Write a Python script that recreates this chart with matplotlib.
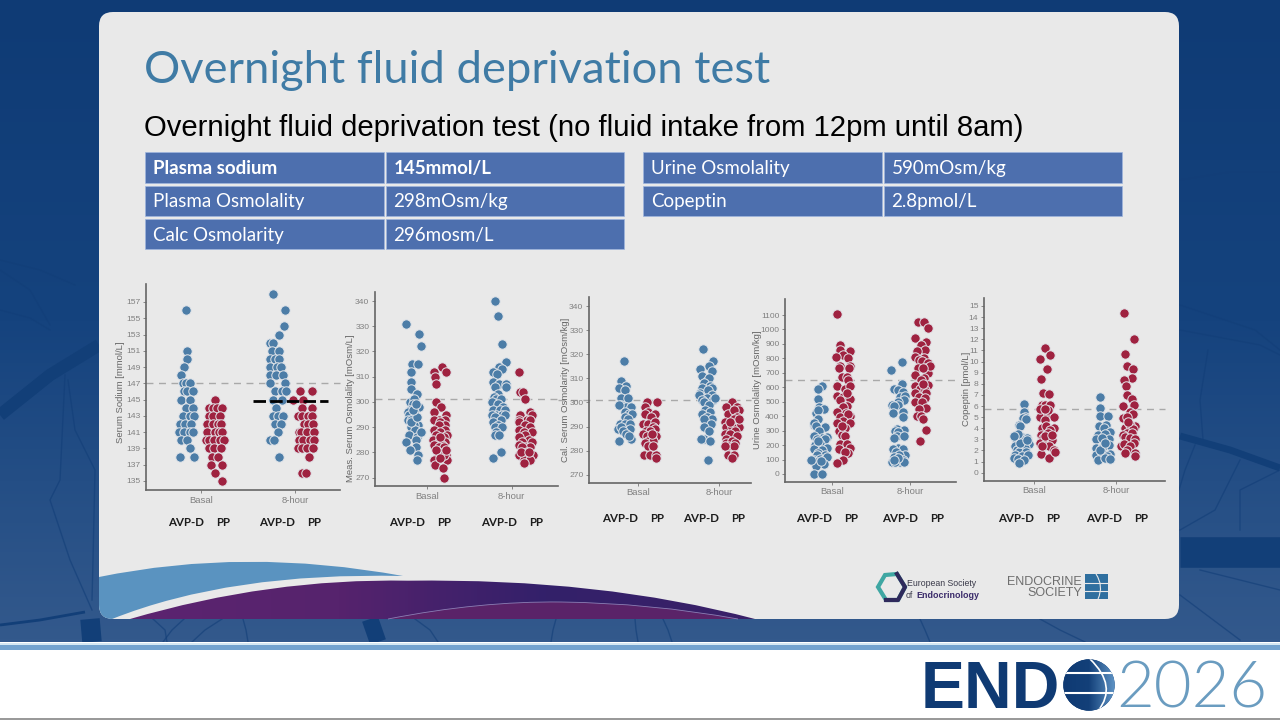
import numpy as np
import matplotlib
matplotlib.use("Agg")
import matplotlib.pyplot as plt
from matplotlib.colors import LinearSegmentedColormap
from matplotlib.patches import FancyBboxPatch, PathPatch, Circle, Rectangle, Polygon
from matplotlib.path import Path

W, H = 1280, 720

# x values are hundredths of a category away from the category tick (jitter)
na_basal_avp_y = [156,151,150,149,148,147,147,147,146,146,146,145,145,144,144,143,143,143,142,142,142,141,141,141,141,140,140,139,138,138]
na_basal_avp_x = [-16,-14,-14,-18,-21,-19,-16,-11,-18,-14,-8,-21,-11,-16,-8,-19,-11,-7,-22,-17,-10,-23,-18,-11,-8,-21,-15,-11,-22,-7]
na_basal_pp_y = [145,144,144,144,144,143,143,143,142,142,142,142,141,141,141,141,140,140,140,140,140,139,139,139,138,138,137,137,136,135]
na_basal_pp_x = [15,9,13,17,23,9,13,20,7,13,18,21,7,15,19,23,6,9,14,20,25,9,14,22,12,18,11,23,15,23]
na_8h_avp_y = [158,156,154,153,152,152,151,151,150,150,150,149,149,149,148,148,148,147,147,146,146,146,145,145,144,143,143,143,142,142,141,140,140,138]
na_8h_avp_x = [-23,-11,-12,-17,-27,-23,-24,-17,-26,-21,-17,-26,-19,-15,-27,-20,-13,-27,-11,-21,-14,-10,-23,-14,-20,-23,-18,-13,-21,-15,-18,-27,-22,-17]
na_8h_pp_y = [146,146,145,145,144,144,143,143,143,143,142,142,142,141,141,141,141,140,140,140,140,139,139,139,139,138,136,136]
na_8h_pp_x = [5,18,-2,9,7,18,3,7,14,18,10,14,19,4,6,13,20,4,9,16,20,3,7,13,19,15,7,12]

osm_basal_avp_y = [331,327,322,315,315,312,308,305,303,300,301,299,298,297,296,296,295,294,293,293,291,291,290,288,289,287,286,288,284,285,282,281,279,277,292,294,297,299]
osm_basal_avp_x = [-24,-9,-7,-17,-10,-18,-18,-18,-11,-20,-15,-16,-9,-20,-15,-22,-21,-14,-22,-18,-10,-15,-18,-8,-14,-21,-11,-7,-24,-13,-13,-20,-10,-12,-18,-11,-16,-13]
osm_basal_pp_y = [314,312,312,310,307,300,298,296,295,293,293,293,292,291,291,289,289,288,287,287,286,285,284,284,283,283,282,282,280,279,277,278,277,275,274,270,286,281,279,278,281]
osm_basal_pp_x = [18,9,23,10,11,11,17,8,23,14,9,22,16,22,14,9,21,16,24,11,20,7,14,22,9,18,14,20,13,23,24,12,9,10,19,20,16,11,20,16,23]
osm_8h_avp_y = [340,334,323,316,314,313,312,311,308,307,307,306,306,303,302,301,301,300,299,298,297,297,297,295,295,295,295,294,293,292,291,290,290,288,287,287,280,278]
osm_8h_avp_x = [-20,-16,-11,-7,-15,-12,-22,-17,-22,-15,-7,-7,-20,-16,-21,-18,-13,-23,-16,-10,-22,-14,-8,-18,-23,-12,-8,-20,-13,-22,-16,-20,-12,-18,-20,-15,-13,-22]
osm_8h_pp_y = [312,304,304,301,296,295,295,293,293,293,292,291,290,289,288,288,287,286,285,284,284,283,282,282,282,280,279,279,279,277,277,276,280,280]
osm_8h_pp_x = [8,10,13,16,21,10,24,8,18,22,9,16,22,8,14,24,16,9,20,12,24,8,16,22,12,18,8,16,25,14,21,15,11,20]

cal_basal_avp_y = [317,309,307,306,305,302,302,299,298,298,299,296,295,295,294,293,291,291,291,289,290,289,288,287,284,285,286]
cal_basal_avp_x = [-17,-20,-15,-23,-16,-20,-12,-20,-14,-8,-23,-16,-11,-7,-16,-12,-22,-16,-9,-24,-21,-9,-18,-14,-23,-8,-11]
cal_basal_pp_y = [300,300,298,296,295,295,294,291,291,292,290,289,288,288,287,286,286,285,284,284,283,282,278,278,278,277,287,282]
cal_basal_pp_x = [11,24,9,13,21,9,16,7,13,21,19,21,10,15,7,23,11,17,13,19,9,13,8,15,23,23,17,19]
cal_8h_avp_y = [322,317,315,314,313,311,309,310,308,307,306,306,304,305,303,303,302,301,301,300,299,302,297,296,295,294,293,293,291,290,288,285,285,284,276]
cal_8h_avp_x = [-20,-7,-12,-23,-9,-21,-15,-12,-19,-11,-9,-21,-23,-13,-8,-24,-15,-21,-7,-18,-12,-5,-17,-11,-21,-15,-9,-19,-10,-19,-12,-19,-22,-11,-13]
cal_8h_pp_y = [300,298,298,297,295,297,294,292,293,290,290,290,287,288,287,286,285,283,284,283,282,282,282,278,278,277,293,292]
cal_8h_pp_x = [16,9,22,24,11,18,22,7,18,24,9,16,7,20,14,22,9,8,16,20,11,18,7,11,18,16,24,14]

uosm_basal_avp_y = [610,585,520,465,450,420,440,380,340,325,350,330,295,260,258,250,240,240,210,200,175,180,165,145,130,130,100,105,100,120,80,70,55,90,0,0,95,225]
uosm_basal_avp_x = [-13,-18,-18,-16,-10,-20,-17,-17,-23,-9,-23,-20,-16,-23,-6,-13,-19,-9,-15,-21,-23,-6,-13,-17,-9,-19,-23,-15,-10,-6,-20,-10,-20,-14,-22,-13,-26,-17]
uosm_basal_pp_y = [1110,890,850,860,825,810,805,750,750,735,730,670,670,610,650,590,610,540,535,530,520,510,470,465,430,425,400,395,415,370,355,350,300,315,270,265,210,210,180,175,145,150,95,75,330,560]
uosm_basal_pp_x = [7,11,23,10,14,6,21,10,23,9,22,13,19,7,21,17,23,7,14,21,23,10,19,14,7,18,23,11,21,15,7,23,9,17,13,17,11,19,23,9,21,17,15,7,13,19]
uosm_8h_avp_y = [775,720,625,585,580,565,530,540,515,500,480,475,470,425,430,395,310,305,300,290,260,265,250,180,170,175,150,130,130,120,100,85,95,85,80,80,110,100]
uosm_8h_avp_x = [-10,-24,-10,-20,-15,-9,-13,-6,-8,-15,-23,-15,-20,-22,-9,-9,-17,-8,-19,-15,-17,-8,-20,-15,-22,-9,-18,-6,-14,-20,-9,-23,-17,-13,-8,-19,-15,-21]
uosm_8h_pp_y = [1055,1055,1010,940,910,895,855,850,810,805,790,780,770,735,730,700,685,665,650,610,615,585,580,560,560,530,525,500,495,460,450,400,400,380,305,230,620,750,730]
uosm_8h_pp_x = [10,18,23,7,21,14,19,9,6,18,11,15,23,10,21,23,7,18,14,7,23,13,19,6,21,11,19,7,15,20,11,9,14,16,21,13,17,26,16]

cop_basal_avp_y = [6.2,5.5,5.0,4.9,4.8,4.3,4.2,3.3,3.2,3.1,3.0,2.9,2.6,2.4,2.4,2.3,2.2,2.0,1.9,1.9,1.6,1.5,1.6,1.3,1.2,1.1,0.9,2.7,3.5,3.3,2.9]
cop_basal_avp_x = [-12,-12,-11,-14,-10,-18,-17,-23,-15,-9,-22,-13,-6,-23,-13,-17,-11,-21,-18,-10,-23,-15,-7,-25,-20,-12,-18,-17,-19,-25,-8]
cop_basal_pp_y = [11.2,10.2,10.6,9.3,8.4,7.2,7.1,6.1,6.1,6.1,5.0,5.2,5.0,4.7,4.0,4.2,4.0,3.8,3.4,3.6,3.1,2.9,2.7,2.5,2.4,2.0,1.7,1.3,1.9,2.4,3.3,5.6,3.4,5.7,5.7]
cop_basal_pp_x = [13,7,20,16,9,11,18,10,14,20,7,17,24,13,10,15,24,20,9,17,11,22,7,14,18,24,9,18,25,10,13,17,22,7,13]
cop_8h_avp_y = [6.8,5.8,5.1,5.1,4.2,4.3,4.0,3.7,3.4,3.5,3.0,3.0,3.1,2.5,2.2,2.2,1.7,1.6,1.8,1.5,1.1,1.3,1.2,2.0,2.7]
cop_8h_avp_x = [-20,-20,-20,-10,-21,-12,-15,-7,-22,-14,-24,-9,-17,-9,-24,-17,-7,-24,-17,-11,-22,-13,-7,-20,-13]
cop_8h_pp_y = [14.4,12.0,10.7,9.6,9.3,8.5,8.3,7.8,7.0,6.6,6.1,6.0,5.5,5.3,4.9,5.0,4.2,4.0,4.3,3.9,3.6,3.6,3.4,3.2,3.1,3.0,2.4,2.6,2.7,2.4,2.0,1.8,1.8,1.5,4.6]
cop_8h_pp_x = [10,22,11,14,21,20,10,12,13,19,22,9,17,21,8,13,23,11,17,21,13,19,8,11,17,23,6,10,22,17,14,11,23,23,15]

categories = ["Basal", "8-hour"]
group_labels = ["AVP-D", "PP", "AVP-D", "PP"]
left_rows = [("Plasma sodium", "145mmol/L"), ("Plasma Osmolality", "298mOsm/kg"), ("Calc Osmolarity", "296mosm/L")]
right_rows = [("Urine Osmolality", "590mOsm/kg"), ("Copeptin", "2.8pmol/L")]

BLUE = "#4c7da7"
RED = "#9f2240"
GREY = "#808080"

panels = [
    dict(ylabel="Serum Sodium [mmol/L]", ticks=list(range(135, 158, 2)), ref=147,
         groups=[(na_basal_avp_x, na_basal_avp_y, 1, BLUE), (na_basal_pp_x, na_basal_pp_y, 1, RED),
                 (na_8h_avp_x, na_8h_avp_y, 2, BLUE), (na_8h_pp_x, na_8h_pp_y, 2, RED)],
         box=(146, 284, 340, 490), ypix=(135, 481, 157, 302), xpix=(200.7, 295), lab=(125, 392), dash=146,
         gx=[186, 223, 277, 314], gy=[522, 522, 522, 522]),
    dict(ylabel="Meas. Serum Osmolality [mOsm/L]", ticks=list(range(270, 341, 10)), ref=301,
         groups=[(osm_basal_avp_x, osm_basal_avp_y, 1, BLUE), (osm_basal_pp_x, osm_basal_pp_y, 1, RED),
                 (osm_8h_avp_x, osm_8h_avp_y, 2, BLUE), (osm_8h_pp_x, osm_8h_pp_y, 2, RED)],
         box=(375, 292, 558, 486), ypix=(270, 477.7, 340, 301), xpix=(426.7, 511.7), lab=(355, 408), dash=375,
         gx=[407, 444, 499, 536], gy=[522, 522, 522, 522]),
    dict(ylabel="Cal. Serum Osmolarity [mOsm/kg]", ticks=list(range(270, 341, 10)), ref=301,
         groups=[(cal_basal_avp_x, cal_basal_avp_y, 1, BLUE), (cal_basal_pp_x, cal_basal_pp_y, 1, RED),
                 (cal_8h_avp_x, cal_8h_avp_y, 2, BLUE), (cal_8h_pp_x, cal_8h_pp_y, 2, RED)],
         box=(589, 297, 751, 482.7), ypix=(270, 474.7, 340, 306), xpix=(637.7, 719), lab=(570, 390), dash=558,
         gx=[620, 657, 701, 738], gy=[519, 519, 518, 518]),
    dict(ylabel="Urine Osmolality [mOsm/kg]", ticks=list(range(0, 1101, 100)), ref=650,
         groups=[(uosm_basal_avp_x, uosm_basal_avp_y, 1, BLUE), (uosm_basal_pp_x, uosm_basal_pp_y, 1, RED),
                 (uosm_8h_avp_x, uosm_8h_avp_y, 2, BLUE), (uosm_8h_pp_x, uosm_8h_pp_y, 2, RED)],
         box=(785, 299, 956, 481.7), ypix=(0, 474, 1100, 315), xpix=(831.7, 910), lab=(762, 390), dash=785,
         gx=[814, 851, 900, 937], gy=[518, 518, 518, 518]),
    dict(ylabel="Copeptin [pmol/L]", ticks=list(range(0, 16)), ref=5.7,
         groups=[(cop_basal_avp_x, cop_basal_avp_y, 1, BLUE), (cop_basal_pp_x, cop_basal_pp_y, 1, RED),
                 (cop_8h_avp_x, cop_8h_avp_y, 2, BLUE), (cop_8h_pp_x, cop_8h_pp_y, 2, RED)],
         box=(984, 298, 1165, 480.7), ypix=(0, 472.7, 15, 306), xpix=(1034, 1116), lab=(971, 389), dash=984,
         gx=[1016, 1053, 1104, 1141], gy=[518, 518, 518, 518]),
]

fig = plt.figure(figsize=(W / 100, H / 100), dpi=100)
bg = fig.add_axes([0, 0, 1, 1])
bg.set_axis_off()

# slide background
grad = np.linspace(0, 1, 200).reshape(-1, 1)
bg_cmap = LinearSegmentedColormap.from_list("slide", ["#0f3b75", "#15437e", "#33598c"])
bg.imshow(grad, extent=(0, W, 642, 0), cmap=bg_cmap, aspect="auto", zorder=0)

# dark vessels behind the card (thin, thick)
thin_veins = [
    [(0, 260), (40, 270), (75, 285)], [(0, 270), (30, 290), (50, 325)], [(0, 310), (30, 318), (50, 330)],
    [(65, 375), (60, 480), (50, 500), (70, 560), (92, 610)], [(68, 380), (75, 430), (95, 470), (93, 560), (92, 600)],
    [(1180, 180), (1230, 172), (1280, 172)], [(1180, 305), (1255, 330), (1280, 350)], [(1180, 330), (1260, 345), (1280, 355)],
    [(1208, 350), (1200, 400), (1203, 440)], [(1195, 445), (1185, 470), (1179, 490)], [(1240, 460), (1215, 510), (1180, 530)],
    [(1280, 470), (1240, 490), (1240, 530)], [(1200, 570), (1240, 580), (1280, 590)], [(1180, 595), (1200, 610), (1240, 640)],
    [(153, 619), (165, 630), (167, 642)], [(184, 619), (172, 630), (163, 642)], [(222, 619), (205, 630), (192, 642)],
    [(243, 619), (246, 630), (248, 642)], [(415, 619), (430, 630), (438, 642)], [(556, 619), (553, 630), (551, 642)],
    [(635, 619), (636, 630), (638, 642)], [(663, 619), (668, 630), (672, 642)], [(920, 619), (925, 630), (930, 642)],
    [(1040, 619), (1060, 630), (1085, 642)],
]
for pts in thin_veins:
    bg.plot(*zip(*pts), color="#123e78", lw=1.0, alpha=0.6, solid_joinstyle="round", zorder=1)
thick_veins = [
    ([(0, 415), (50, 375), (99, 345)], 9), ([(1180, 436), (1230, 450), (1280, 468)], 5), ([(1180, 552), (1280, 552)], 22),
    ([(0, 625), (40, 620), (85, 612)], 2), ([(90, 619), (92, 642)], 14), ([(370, 619), (378, 642)], 12),
]
for pts, lw in thick_veins:
    bg.plot(*zip(*pts), color="#123f78", lw=lw, solid_capstyle="butt", zorder=1)

# bottom band
bg.add_patch(Rectangle((0, 642), W, 78, fc="white", ec="none", zorder=2))
bg.add_patch(Rectangle((0, 643), W, 2, fc="#d5e8f3", ec="none", zorder=2))
bg.add_patch(Rectangle((0, 645), W, 5, fc="#73a3cf", ec="none", zorder=2))
bg.add_patch(Rectangle((0, 718), W, 2, fc="#9a9a9a", ec="none", zorder=2))

# card
card = FancyBboxPatch((99 + 14, 12 + 14), 1080 - 28, 607 - 28, boxstyle="round,pad=14,rounding_size=14",
                      fc="#e9e9e9", ec="none", zorder=3)
bg.add_patch(card)

# swooshes at the foot of the card
C = Path.CURVE3
M = Path.MOVETO
L = Path.LINETO
blue_sw = Path([(99, 577), (245, 547), (403, 576), (230, 572), (112, 619), (99, 619), (99, 577)],
               [M, C, C, C, C, L, L])
p = PathPatch(blue_sw, fc="#5a93c0", ec="none", zorder=4)
bg.add_patch(p)
p.set_clip_path(card)
purple_sw = PathPatch(Path([(130, 619), (270, 578), (408, 580.7), (600, 578), (755, 619), (130, 619)], [M, C, C, C, C, L]),
                      fc="none", ec="none", zorder=4)
bg.add_patch(purple_sw)
purple_grad = bg.imshow(np.linspace(0, 1, 200).reshape(1, -1), extent=(130, 755, 619, 578), aspect="auto", zorder=4,
                        cmap=LinearSegmentedColormap.from_list("swoosh", ["#5c2470", "#56236d", "#33206a", "#3a2068"]))
purple_grad.set_clip_path(purple_sw)
inner_sw = Path([(388, 619), (480, 601), (561, 602), (650, 603), (738, 619), (388, 619)], [M, C, C, C, C, L])
bg.add_patch(PathPatch(inner_sw, fc="#5a2368", ec="none", zorder=5))
inner_top = Path([(388, 619), (480, 601), (561, 602), (650, 603), (738, 619)], [M, C, C, C, C])
bg.add_patch(PathPatch(inner_top, fc="none", ec="#8b7fb5", lw=0.6, zorder=5))

# headings
bg.text(144, 83, "Overnight fluid deprivation test", fontsize=32.6, color="#3f7ba5", family="Lato",
        va="baseline", ha="left", zorder=6)
bg.text(144, 136, "Overnight fluid deprivation test (no fluid intake from 12pm until 8am)", fontsize=21.1,
        color="black", family="Liberation Sans", va="baseline", ha="left", zorder=6)

# tables
row_tops = [152, 185.5, 218.5]
row_bots = [183, 216, 249]
row_base = [174, 207.5, 240.5]
for rows, x0, x1, x2, x3 in [(left_rows, 145, 384, 385.5, 624), (right_rows, 643, 882, 883.5, 1122)]:
    for i, (a, b) in enumerate(rows):
        bold = rows is left_rows and i == 0
        for xa, xb, label in [(x0, x1, a), (x2, x3, b)]:
            bg.add_patch(Rectangle((xa, row_tops[i]), xb - xa, row_bots[i] - row_tops[i], fc="#4d6fae",
                                   ec="#9fb6de", lw=0.5, zorder=6))
            bg.text(xa + 8, row_base[i], label, color="white", fontsize=13.5, family="Lato",
                    fontweight="bold" if bold else "normal", va="baseline", ha="left", zorder=7)

# scatter panels
for pn in panels:
    left, top, right, bottom = pn["box"]
    ax = fig.add_axes([left / W, 1 - bottom / H, (right - left) / W, (bottom - top) / H])
    ax.patch.set_alpha(0)
    v0, p0, v1, p1 = pn["ypix"]
    per_px = (v1 - v0) / (p0 - p1)
    ax.set_ylim(v0 - (bottom - p0) * per_px, v0 + (p0 - top) * per_px)
    c0, c1 = pn["xpix"]
    ax.set_xlim(1 + (left - c0) / (c1 - c0), 1 + (right - c0) / (c1 - c0))
    ax.plot([1 + (pn["dash"] - c0) / (c1 - c0), ax.get_xlim()[1]], [pn["ref"], pn["ref"]],
            color="#a9a9a9", lw=1, dashes=(5, 4), clip_on=False, zorder=1)
    for xs, ys, cat, col in pn["groups"]:
        ax.scatter(cat + np.array(xs) / 100, ys, s=46, color=col, edgecolors="#e3e6ea", linewidths=0.7, zorder=3)
    ax.set_xticks([1, 2])
    ax.set_xticklabels(categories, fontsize=6.8, color=GREY, family="Liberation Sans")
    ax.set_yticks(pn["ticks"])
    ax.set_yticklabels([str(t) for t in pn["ticks"]], fontsize=6.1, color=GREY, family="Liberation Sans")
    ax.tick_params(axis="both", length=2, width=0.6, color="#777777", pad=2)
    ax.set_ylabel(pn["ylabel"], fontsize=6.8, color="#666666", family="Liberation Sans")
    ax.yaxis.set_label_coords((pn["lab"][0] - left) / (right - left), (bottom - pn["lab"][1]) / (bottom - top))
    for s in ["top", "right"]:
        ax.spines[s].set_visible(False)
    for s in ["left", "bottom"]:
        ax.spines[s].set_color("#666666")
        ax.spines[s].set_linewidth(1.2)
    for gx, gy, name in zip(pn["gx"], pn["gy"], group_labels):
        bg.text(gx, gy, name, fontsize=8.3, fontweight="bold", color="#1c1c1c", family="Lato",
                ha="center", va="center", zorder=7)
    if pn is panels[0]:
        # patient's sodium marked across the 8-hour column
        ax.plot([1 + (252.7 - c0) / (c1 - c0), 1 + (328 - c0) / (c1 - c0)], [144.8, 144.8], color="black", lw=2,
                dashes=(4.5, 1.5), zorder=5)

# society logos
bg.add_patch(Polygon([(878, 587), (885, 575), (897, 574), (905, 587), (898, 600), (886, 600)], closed=True,
                     fc="#e9e9e9", ec="#3fa7a3", lw=3, zorder=6))
bg.plot([897, 905, 898, 886], [574, 587, 600, 600], color="#2f2a5c", lw=3, solid_joinstyle="round", zorder=6.5)
bg.text(907, 584, "European Society", fontsize=6.3, color="#3a3a4a", family="Liberation Sans", va="center", zorder=7)
bg.text(906, 595.5, "of", fontsize=6.3, color="#3a3a4a", family="Liberation Sans", va="center", zorder=7)
bg.text(916, 595.5, "Endocrinology", fontsize=6.4, fontweight="bold", color="#3a2a6a", family="Liberation Sans",
        va="center", zorder=7)
bg.text(1082, 582, "ENDOCRINE", fontsize=9, color="#6e6e6e", family="Liberation Sans", va="center", ha="right", zorder=7)
bg.text(1082, 592.5, "SOCIETY", fontsize=9, color="#6e6e6e", family="Liberation Sans", va="center", ha="right", zorder=7)
bg.add_patch(Rectangle((1085, 574), 23, 25, fc="#2f6f9f", ec="none", zorder=7))
bg.plot([1085, 1108], [583, 583], color="#e9e9e9", lw=0.8, zorder=8)
bg.plot([1085, 1108], [591, 591], color="#e9e9e9", lw=0.8, zorder=8)
bg.add_patch(PathPatch(Path([(1096, 574), (1104, 586), (1098, 599)], [M, C, C]), fc="none", ec="#e9e9e9", lw=0.8, zorder=8))

# ENDO 2026 wordmark
bg.text(921, 708, "END", fontsize=47.5, fontweight="bold", color="#0f3a73", family="Liberation Sans",
        va="baseline", ha="left", zorder=7)
globe = Circle((1089, 685), 25.7, fc="#0f3a73", ec="none", zorder=7)
bg.add_patch(globe)
im = bg.imshow(np.linspace(0, 1, 80).reshape(1, -1), extent=(1063, 1115, 711, 659), aspect="auto", zorder=8,
               cmap=LinearSegmentedColormap.from_list("globe", ["#0f3a73", "#134079", "#5d92c4"]))
im.set_clip_path(globe)
for gy in [673, 693]:
    ln, = bg.plot([1060, 1118], [gy, gy], color="white", lw=1.5, zorder=9)
    ln.set_clip_path(globe)
arc = PathPatch(Path([(1090, 659), (1118, 686), (1098, 711)], [M, C, C]), fc="none", ec="white", lw=1.2, zorder=9)
bg.add_patch(arc)
arc.set_clip_path(globe)
bg.text(1116, 708, "2026", fontsize=47, fontweight=300, color="#6a9cc0", family="Lato", va="baseline", ha="left", zorder=7)

bg.set_xlim(0, W)
bg.set_ylim(H, 0)

fig.savefig("out.png", dpi=100)
